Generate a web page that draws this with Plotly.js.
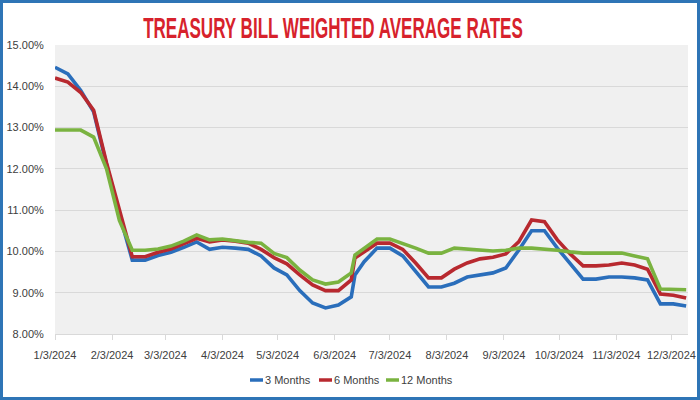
<!DOCTYPE html>
<html>
<head>
<meta charset="utf-8">
<script src="https://cdn.plot.ly/plotly-3.0.1.min.js"></script>
<style>
  html, body { margin: 0; padding: 0; background: #ffffff; }
  #wrap { position: relative; width: 700px; height: 400px; }
  #chart { width: 700px; height: 400px; }
  #frame { position: absolute; left: 0; top: 0; width: 700px; height: 400px; box-sizing: border-box; border: 3px solid #2e75b6; pointer-events: none; }
</style>
</head>
<body>
<div id="wrap"><div id="chart"></div><div id="frame"></div></div>
<script>
const dates = [
  '2024-01-03','2024-01-10','2024-01-17','2024-01-24','2024-01-31',
  '2024-02-07','2024-02-14','2024-02-21','2024-02-28',
  '2024-03-06','2024-03-13','2024-03-20','2024-03-27',
  '2024-04-03','2024-04-10','2024-04-17','2024-04-24',
  '2024-05-01','2024-05-08','2024-05-15','2024-05-22','2024-05-29',
  '2024-06-05','2024-06-12','2024-06-14','2024-06-19','2024-06-26',
  '2024-07-03','2024-07-10','2024-07-17','2024-07-24','2024-07-31',
  '2024-08-07','2024-08-14','2024-08-21','2024-08-28',
  '2024-09-04','2024-09-11','2024-09-18','2024-09-25',
  '2024-10-02','2024-10-09','2024-10-16','2024-10-23','2024-10-30',
  '2024-11-06','2024-11-13','2024-11-20','2024-11-27',
  '2024-12-04','2024-12-11'
];
const months3 = [
  14.46,14.30,13.90,13.38,12.10,
  10.90,9.79,9.79,9.90,
  9.98,10.10,10.23,10.05,
  10.10,10.08,10.05,9.89,
  9.60,9.43,9.05,8.75,8.63,
  8.70,8.90,9.43,9.75,10.08,
  10.08,9.89,9.50,9.14,9.14,
  9.23,9.38,9.43,9.48,
  9.60,10.03,10.50,10.50,
  10.08,9.72,9.33,9.33,9.38,
  9.38,9.36,9.31,8.73,
  8.73,8.68
];
const months6 = [
  14.20,14.10,13.85,13.42,12.15,
  11.00,9.87,9.87,9.98,
  10.06,10.20,10.32,10.23,
  10.28,10.25,10.20,10.05,
  9.85,9.70,9.43,9.19,9.05,
  9.05,9.31,9.84,9.99,10.20,
  10.20,10.05,9.72,9.36,9.36,
  9.57,9.72,9.82,9.86,
  9.94,10.23,10.76,10.72,
  10.28,9.94,9.65,9.65,9.67,
  9.72,9.67,9.57,8.97,
  8.94,8.87
];
const months12 = [
  12.94,12.94,12.94,12.77,12.00,
  10.75,10.03,10.03,10.06,
  10.13,10.25,10.40,10.28,
  10.30,10.25,10.22,10.20,
  9.95,9.85,9.55,9.31,9.21,
  9.26,9.48,9.91,10.08,10.30,
  10.30,10.20,10.08,9.96,9.96,
  10.08,10.06,10.02,10.01,
  10.03,10.08,10.08,10.06,
  10.03,9.99,9.96,9.96,9.96,
  9.96,9.89,9.82,9.09,
  9.09,9.07
];
const seriesNames = ['3 Months','6 Months','12 Months'];
const tickDates = ['2024-01-03','2024-02-03','2024-03-03','2024-04-03','2024-05-03','2024-06-03',
                   '2024-07-03','2024-08-03','2024-09-03','2024-10-03','2024-11-03','2024-12-03'];
const tickLabels = ['1/3/2024','2/3/2024','3/3/2024','4/3/2024','5/3/2024','6/3/2024',
                    '7/3/2024','8/3/2024','9/3/2024','10/3/2024','11/3/2024','12/3/2024'];
const yTicks = [8,9,10,11,12,13,14,15];
const yTickLabels = ['8.00%','9.00%','10.00%','11.00%','12.00%','13.00%','14.00%','15.00%'];

const colors = ['#2a6ebb','#b8292f','#7ab340'];
const ys = [months3, months6, months12];
const traces = ys.map((y, k) => ({
  x: dates, y: y, name: seriesNames[k], type: 'scatter', mode: 'lines',
  line: { color: colors[k], width: 3.6 }
}));

const font = "'Liberation Sans', Arial, sans-serif";
const layout = {
  width: 700, height: 400,
  margin: { l: 55, r: 12, t: 45, b: 66 },
  paper_bgcolor: '#ffffff',
  plot_bgcolor: '#f0f0f0',
  font: { family: font, size: 11, color: '#404040' },
  title: {
    text: 'TREASURY BILL WEIGHTED AVERAGE RATES',
    font: { family: font, size: 30, color: '#d7222c', weight: 700 },
    x: 0.476, xanchor: 'center', xref: 'paper', y: 0.93, yanchor: 'middle', yref: 'container'
  },
  xaxis: {
    type: 'date', range: ['2024-01-03', '2024-12-12'],
    tickvals: tickDates, ticktext: tickLabels, tickangle: 0,
    showgrid: false, zeroline: false,
    showline: true, linecolor: '#d9d9d9', linewidth: 1,
    ticks: 'outside', ticklen: 5, tickcolor: '#d9d9d9',
    ticklabelstandoff: 6,
    tickfont: { family: font, size: 11, color: '#404040' },
    fixedrange: true
  },
  yaxis: {
    range: [8, 15], tickvals: yTicks, ticktext: yTickLabels,
    showgrid: true, gridcolor: '#d9d9d9', gridwidth: 1,
    zeroline: false, showline: false,
    ticks: 'outside', ticklen: 8, tickcolor: 'rgba(0,0,0,0)',
    tickfont: { family: font, size: 11, color: '#404040' },
    fixedrange: true
  },
  showlegend: true,
  legend: {
    orientation: 'h', xref: 'container', yref: 'container',
    x: 0.49, xanchor: 'center', y: 0.05, yanchor: 'middle',
    font: { family: font, size: 11, color: '#404040' },
    itemwidth: 30, tracegroupgap: 0, bgcolor: 'rgba(0,0,0,0)'
  }
};
Plotly.newPlot('chart', traces, layout, { displayModeBar: false, staticPlot: true }).then(() => {
  // condense the title horizontally to mimic the narrow display face
  const t = document.querySelector('.gtitle');
  if (t) {
    const bb = t.getBBox();
    const s = 380 / bb.width;
    const cx = 333, mid = bb.x + bb.width / 2;
    t.setAttribute('transform', `translate(${cx},0) scale(${s},1) translate(${-mid},0)`);
  }
  // short legend swatches placed right before the text, items packed like the reference
  document.querySelectorAll('.legendlines path').forEach(p => p.setAttribute('d', 'M25,0h13'));
  const textStarts = [265, 334, 401];
  const wrapLeft = document.getElementById('chart').getBoundingClientRect().left;
  document.querySelectorAll('.legend .traces').forEach((g, i) => {
    const txt = g.querySelector('.legendtext');
    if (!txt || textStarts[i] === undefined) return;
    const left = txt.getBoundingClientRect().left - wrapLeft;
    const dx = textStarts[i] - left;
    const m = /translate\(\s*([-\d.]+)[ ,]+([-\d.]+)\s*\)/.exec(g.getAttribute('transform') || '');
    const x0 = m ? parseFloat(m[1]) : 0, y0 = m ? parseFloat(m[2]) : 0;
    g.setAttribute('transform', `translate(${x0 + dx},${y0})`);
  });
});
</script>
</body>
</html>
